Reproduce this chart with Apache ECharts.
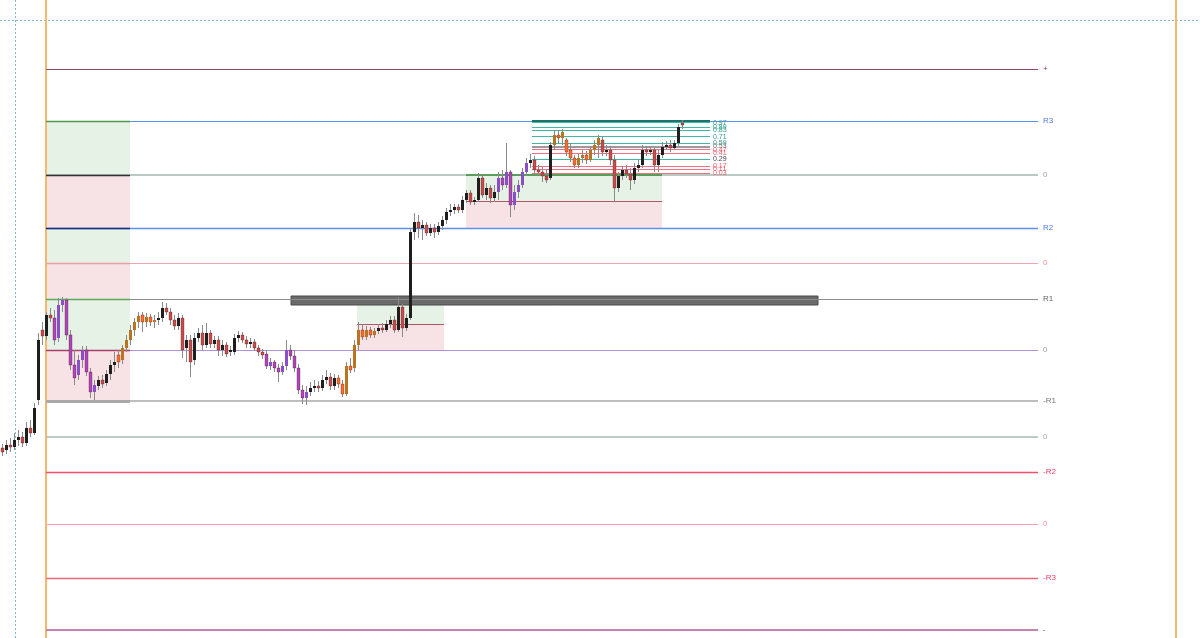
<!DOCTYPE html>
<html><head><meta charset="utf-8">
<script src="https://cdn.jsdelivr.net/npm/echarts@6/dist/echarts.min.js"></script>
<style>html,body{margin:0;padding:0;background:#fff}#c{width:1200px;height:638px}</style>
</head><body><div id="c"></div><script>
// ---- candle data (bar index = position in series) ----
const opens=[55.2,55.0,55.5,55.3,56.0,56.3,55.7,57.2,56.7,60.0,
67.0,66.4,68.5,68.2,66.2,69.5,70.0,66.5,63.5,62.5,
64.0,65.0,62.8,60.8,61.4,62.0,61.7,62.6,63.5,64.5,
64.0,65.2,66.0,67.0,67.8,68.5,67.8,68.3,67.8,68.0,
68.2,69.2,68.8,68.0,67.4,68.2,65.2,66.0,64.0,66.2,
66.7,65.5,66.7,65.6,66.0,65.0,65.5,64.8,64.8,66.2,
66.5,66.0,65.6,65.8,65.2,64.8,64.6,63.4,63.8,63.2,
62.8,63.4,65.0,64.4,63.2,61.0,60.2,60.8,61.2,61.4,
61.2,62.0,62.3,61.4,62.2,61.6,60.6,63.4,63.2,65.5,
67.0,66.3,67.0,66.5,66.9,67.2,67.0,67.6,68.0,67.0,
69.3,67.2,68.2,76.8,77.8,77.2,77.5,76.7,77.2,76.8,
77.4,78.0,78.8,79.0,79.3,79.0,80.0,80.7,79.8,80.0,
82.2,80.5,81.2,80.2,80.8,82.2,81.5,82.8,79.5,80.8,
81.5,82.8,83.7,84.0,83.0,82.8,82.4,82.2,85.5,86.5,
86.2,86.0,85.0,84.2,83.5,84.2,84.5,84.0,85.0,85.5,
86.0,84.8,85.0,84.0,81.2,82.4,83.0,82.6,82.0,83.2,
83.5,85.0,84.8,85.0,83.5,84.5,85.3,85.5,85.2,85.7,
87.7];
const closes=[54.8,55.5,55.3,56.0,56.3,55.7,57.2,56.7,59.2,66.0,
66.4,68.5,68.2,66.0,69.5,70.0,66.5,63.5,62.2,64.0,
65.0,62.8,60.8,61.5,62.0,61.6,62.6,63.5,63.8,63.8,
65.2,66.0,67.0,67.8,68.4,67.8,68.3,67.8,68.0,68.2,
69.2,68.8,68.0,67.4,68.2,65.0,66.0,63.8,66.2,66.7,
65.5,66.7,65.6,66.0,65.0,65.5,64.6,65.0,66.2,66.5,
66.0,65.6,65.8,65.2,64.8,64.5,63.4,63.8,63.2,62.8,
63.4,65.0,64.4,63.2,61.0,60.2,60.8,61.2,61.4,61.2,
62.0,62.3,61.4,62.2,61.6,60.6,63.4,63.0,65.5,67.0,
66.3,67.0,66.5,66.9,67.2,67.0,67.6,68.0,67.0,69.3,
67.2,68.2,76.8,77.8,77.2,77.5,76.7,77.2,76.8,77.4,
78.0,78.8,79.0,79.3,79.0,80.0,80.7,79.8,80.0,82.2,
80.5,81.2,80.2,80.8,82.2,81.5,82.8,79.5,80.8,81.5,
82.8,83.7,84.0,83.0,82.8,82.4,82.0,85.5,86.5,86.2,
86.8,84.8,84.2,83.5,84.2,84.5,84.0,85.0,85.5,86.2,
84.8,85.0,84.0,81.2,82.4,83.0,82.6,82.0,83.2,83.5,
85.0,84.8,85.0,83.5,84.5,85.3,85.5,85.2,85.7,87.3,
87.5];
const lows=[54.4,54.6,54.8,55.0,55.4,55.3,55.4,56.3,56.5,59.5,
65.5,66.0,67.8,65.5,65.8,68.8,66.0,63.0,61.5,62.0,
63.2,62.4,60.2,60.0,61.0,61.2,61.4,62.0,62.8,63.2,
63.6,64.8,65.5,66.4,67.2,66.8,67.3,67.4,67.2,67.5,
67.8,68.5,67.5,67.0,67.0,64.2,63.8,62.3,63.5,65.8,
65.0,65.2,65.2,65.2,64.4,64.4,64.3,64.4,64.5,65.8,
65.7,65.2,65.2,64.9,64.4,64.1,63.1,63.0,62.8,61.8,
62.5,63.0,64.0,62.8,60.6,59.6,59.5,60.4,60.8,60.8,
60.9,61.6,61.0,61.0,61.2,60.3,60.4,62.7,62.8,65.0,
66.0,66.0,66.2,66.2,66.6,66.7,66.8,67.2,66.7,66.8,
66.3,66.9,68.0,76.0,76.2,76.0,76.4,76.4,76.2,76.5,
77.0,77.6,78.4,78.6,78.7,78.7,79.7,79.5,79.5,79.8,
80.2,80.0,79.7,79.8,80.0,81.0,81.2,78.3,79.0,80.2,
81.2,82.4,83.2,82.7,82.4,81.8,81.7,82.0,85.0,85.7,
85.5,84.4,83.8,83.2,83.2,83.7,83.6,83.8,84.5,84.2,
84.4,84.4,83.5,79.8,80.8,82.0,82.2,81.0,81.6,82.8,
83.2,84.4,84.5,82.8,82.8,84.2,85.0,84.8,85.0,85.4,
87.1];
const highs=[55.6,56.0,56.2,56.7,57.0,56.8,57.8,58.0,59.7,66.7,
67.8,68.8,69.2,69.0,70.2,70.3,70.2,67.0,65.0,64.5,
65.4,65.4,63.2,62.0,62.4,62.5,63.0,64.0,64.8,65.0,
65.5,66.5,67.5,68.2,68.8,68.8,68.7,68.6,68.5,68.8,
69.8,69.7,69.2,68.5,68.7,68.5,66.5,66.5,66.7,67.2,
67.5,67.7,67.0,66.4,66.4,66.0,65.8,65.4,66.6,66.9,
66.8,66.4,66.2,66.1,65.5,65.1,65.0,64.2,64.0,63.6,
63.8,66.0,65.5,65.0,63.6,61.5,61.4,61.8,62.0,61.9,
62.5,63.0,62.7,62.6,62.5,62.0,63.8,64.2,66.0,67.8,
67.6,67.4,67.3,67.2,67.6,67.7,68.0,68.4,68.4,70.3,
69.6,68.6,77.2,78.7,78.5,78.0,77.8,77.6,77.6,77.8,
78.4,79.2,79.6,79.6,79.6,80.4,81.0,81.0,80.3,82.7,
82.6,81.7,81.5,81.5,82.8,83.0,85.7,83.0,81.5,82.0,
83.2,84.2,84.6,84.4,83.5,83.3,83.0,85.8,87.0,87.0,
87.1,86.2,85.7,84.5,84.6,85.0,84.9,85.4,86.0,86.5,
86.3,85.5,85.4,84.5,82.8,83.4,83.5,83.2,83.7,84.0,
85.5,85.4,85.3,85.2,85.0,85.8,85.9,86.0,86.0,87.6,
88.0];
// signal regimes: [firstBar, lastBar, kind]
const regimeSpans=[[13,23,'p'],[29,38,'o'],[66,76,'p'],[84,93,'o'],[124,131,'p'],[138,149,'o']];

// ---- pivot levels ----
const levelNames=['+','R3','0','R2','0','R1','0','-R1','0','-R2','0','-R3','-'];
const levelPrices=[93.1,87.9,82.5,77.2,73.7,70.1,65.0,59.9,56.3,52.8,47.6,42.2,37.0];
const levelStart=11, levelEnd=259;

// ---- zones ----
const leftBoxBars=[11,32];
const leftBoxBands=[[87.9,82.5,'up'],[82.5,77.2,'dn'],[77.2,73.7,'up'],[73.7,70.1,'dn'],[70.1,65.0,'up'],[65.0,59.9,'dn']];
const box2Bars=[88.75,110.5];
const box2Prices=[70.1,67.6,65.0];
const box3Bars=[116,165];
const box3Prices=[82.5,79.9,77.2];
const barZoneBars=[72.25,204];
const barZonePrices=[70.4,69.5];

// ---- fib ----
const fibBars=[132.5,177];
const fibHigh=87.9, fibLow=82.5;
const fibLevels=[0.97,0.89,0.83,0.71,0.59,0.53,0.47,0.41,0.29,0.17,0.11,0.03];

// ---- vertical markers ----
const sessionBars=[11,293.5];
const crossBar=3.25, crossPrice=98.0;

// ================= styles =================
const lvlLine=[['#9a4a6e',1.2],['#5b8ff0',1.2],['#a3b7ad',1.6],['#5b8ff0',1.3],['#f0a6ae',1],['#8c8c8c',1.1],['#b48fd8',1.2],['#a8a8a8',1.6],['#a7bab2',1.6],['#f0506a',1.3],['#f7a0b0',1],['#f06878',1.3],['#c583b0',2.2]];
const lvlLabel=['#9a3060','#4a7df0','#9aa8a2','#4a7df0','#f08a96','#666','#9a9a9a','#777','#9aa8a2','#f04060','#f890a0','#f04060','#a04080'];
const leftBoxLineColors=['#4c9a4c','#333','#1c2f7a','#e8a0a8','#5aab5a','#a8406a'];
const GREEN='rgba(90,170,90,0.15)', PINK='rgba(200,70,90,0.15)';

const regimeOf=i=>{for(const s of regimeSpans){if(i>=s[0]&&i<=s[1])return s[2];}return 'n';};
const palette={n:['#1e1e1e','#c94c4c'],p:['#8a4fc8','#b145bd'],o:['#b8741f','#ff6d2d']};

const candleData=opens.map((o,i)=>[i,o,closes[i],lows[i],highs[i]]);

const hLine=(x1,x2,p,color,width,label)=>[
  {coord:[x1,p],lineStyle:{color:color,width:width,type:'solid'},label:label||{show:false}},
  {coord:[x2,p]}];

const levelLines=levelPrices.map((p,i)=>hLine(levelStart,levelEnd,p,lvlLine[i][0],lvlLine[i][1],
  {show:true,position:'end',formatter:levelNames[i],color:lvlLabel[i],fontSize:8,distance:5,fontFamily:'Liberation Sans, Arial'}));

const leftAreas=leftBoxBands.map(b=>[{coord:[leftBoxBars[0],b[0]],itemStyle:{color:b[2]==='up'?GREEN:PINK}},{coord:[leftBoxBars[1],b[1]]}]);
const leftLines=leftBoxBands.map((b,i)=>hLine(leftBoxBars[0],leftBoxBars[1],b[0],leftBoxLineColors[i],1.4));
leftLines.push(hLine(leftBoxBars[0],leftBoxBars[1],59.9,'#a9a9a9',3));

const fibColor=f=>(f===0.53?'#9a9a9a':(f>0.5||f===0.29)?'#3fb8a6':'#f07080');
const fibLabelColor=f=>(f===0.29?'#444':f===0.53?'#777':f>0.5?'#2f9d8e':'#f05a6a');
const fibLines=fibLevels.map(f=>hLine(fibBars[0],fibBars[1],fibLow+f*(fibHigh-fibLow),fibColor(f),f===0.53?2:1.2,
  {show:true,position:'end',formatter:f.toFixed(2),color:fibLabelColor(f),fontSize:7,distance:3,fontFamily:'Liberation Sans, Arial'}));
fibLines.push(hLine(fibBars[0],fibBars[1],fibHigh,'#17756b',2));

const chart=echarts.init(document.getElementById('c'),null,{renderer:'canvas'});
chart.setOption({
  animation:false,
  backgroundColor:'#ffffff',
  grid:{left:0,right:0,top:0,bottom:0},
  xAxis:{type:'value',min:-0.5,max:299.5,show:false},
  yAxis:{type:'value',min:36.2,max:100,show:false},
  series:[
    {type:'line',data:[],z:1,silent:true,
      markArea:{silent:true,label:{show:false},data:[
        ...leftAreas,
        [{coord:[box2Bars[0],box2Prices[0]],itemStyle:{color:GREEN}},{coord:[box2Bars[1],box2Prices[1]]}],
        [{coord:[box2Bars[0],box2Prices[1]],itemStyle:{color:PINK}},{coord:[box2Bars[1],box2Prices[2]]}],
        [{coord:[box3Bars[0],box3Prices[0]],itemStyle:{color:GREEN}},{coord:[box3Bars[1],box3Prices[1]]}],
        [{coord:[box3Bars[0],box3Prices[1]],itemStyle:{color:PINK}},{coord:[box3Bars[1],box3Prices[2]]}]
      ]}},
    {type:'line',data:[],z:2,silent:true,
      markLine:{silent:true,symbol:['none','none'],data:[
        {xAxis:crossBar,lineStyle:{color:'#7fbcc6',type:[2,2],width:1},label:{show:false}},
        {yAxis:crossPrice,lineStyle:{color:'#7fbcc6',type:[2,2],width:1},label:{show:false}},
        {xAxis:sessionBars[0],lineStyle:{color:'#f7b869',type:'solid',width:2},label:{show:false}},
        {xAxis:sessionBars[1],lineStyle:{color:'#f7b869',type:'solid',width:2},label:{show:false}}
      ]}},
    {type:'line',data:[],z:3,silent:true,
      markLine:{silent:true,symbol:['none','none'],data:levelLines}},
    {type:'line',data:[],z:4,silent:true,
      markLine:{silent:true,symbol:['none','none'],data:[
        ...leftLines,
        hLine(box2Bars[0],box2Bars[1],box2Prices[1],'#b05868',1.2),
        hLine(box3Bars[0],box3Bars[1],box3Prices[0],'#3a8f3a',1.6),
        hLine(box3Bars[0],box3Bars[1],box3Prices[1],'#b05868',1.2),
        ...fibLines
      ]}},
    {type:'line',data:[],z:5,silent:true,
      markArea:{silent:true,label:{show:false},data:[
        [{coord:[barZoneBars[0],barZonePrices[0]],itemStyle:{color:'#6a6a6a',borderColor:'#4a4a4a',borderWidth:1}},{coord:[barZoneBars[1],barZonePrices[1]]}]
      ]}},
    {type:'custom',z:10,data:candleData,encode:{x:0,y:[1,2,3,4]},
      renderItem:function(params,api){
        const i=api.value(0),o=api.value(1),c=api.value(2),l=api.value(3),h=api.value(4);
        const po=api.coord([i,o]),pc=api.coord([i,c]),pl=api.coord([i,l]),ph=api.coord([i,h]);
        const col=palette[regimeOf(i)][c>=o?0:1];
        const w=3, x=Math.round(po[0]);
        const top=Math.min(po[1],pc[1]);
        return {type:'group',children:[
          {type:'line',shape:{x1:x+0.5,y1:ph[1],x2:x+0.5,y2:pl[1]},style:{stroke:'#8a8a8a',lineWidth:1}},
          {type:'rect',shape:{x:x+0.5-w/2,y:top,width:w,height:Math.max(1,Math.abs(po[1]-pc[1]))},style:{fill:col,stroke:c>=o?null:'rgba(60,20,20,0.6)',lineWidth:0.5}}
        ]};
      }}
  ]
});
</script></body></html>
